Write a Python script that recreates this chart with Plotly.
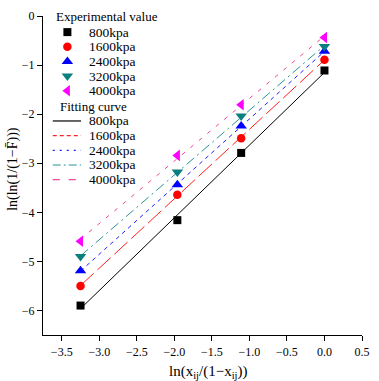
import numpy as np
import plotly.graph_objects as go

# ---------------- data ----------------
pressures = ["800kpa", "1600kpa", "2400kpa", "3200kpa", "4000kpa"]
x_vals = [-3.25, -1.96, -1.11, 0.0]
y_800 = [-5.90, -4.16, -2.79, -1.11]
y_1600 = [-5.50, -3.64, -2.49, -0.89]
y_2400 = [-5.19, -3.44, -2.24, -0.72]
y_3200 = [-4.90, -3.18, -2.04, -0.62]
y_4000 = [-4.59, -2.84, -1.81, -0.44]
series = [y_800, y_1600, y_2400, y_3200, y_4000]

x_ticks = [-3.5, -3.0, -2.5, -2.0, -1.5, -1.0, -0.5, 0.0, 0.5]
y_ticks = [-6, -5, -4, -3, -2, -1, 0]

# ---------------- styles ----------------
marker_colors = ["#000000", "#FF0000", "#0000FF", "#0A7F7F", "#FF00FF"]
line_colors = ["#000000", "#FF2020", "#2020FF", "#2A9494", "#F0459A"]
symbols = ["square", "circle", "triangle-up", "triangle-down", "triangle-left"]
msizes = [8, 8.5, 10, 10, 10]
plot_dash = ["solid", "18px,5px", "4px,4px", "10px,4px,2px,4px", "4px,7px"]
leg_dash = ["solid", "4px,3px", "2px,5px", "8px,3px,2px,3px", "7px,9px"]

font_fam = "Liberation Serif, Times New Roman, serif"

W, H = 379, 381
ML, MR, MT, MB = 43, 9, 12, 46
PW, PH = W - ML - MR, H - MT - MB

fig = go.Figure()

xs = np.array(x_vals)
xline = np.array([min(x_vals), max(x_vals)])
for i, ys in enumerate(series):
    k, b = np.polyfit(xs, np.array(ys), 1)
    fig.add_trace(go.Scatter(
        x=xline, y=k * xline + b, mode="lines",
        line=dict(color=line_colors[i], width=1.0, dash=plot_dash[i]),
        showlegend=False, hoverinfo="skip"))
for i, ys in enumerate(series):
    fig.add_trace(go.Scatter(
        x=x_vals, y=ys, mode="markers",
        marker=dict(symbol=symbols[i], size=msizes[i], color=marker_colors[i],
                    line=dict(width=0)),
        showlegend=False))

# ---------------- custom legend (pixel axes overlay) ----------------
row0 = 28.3 - MT
step = 14.85
mk_x = 68 - ML
txt_x = 88 - ML
annotations = []
annotations.append(dict(x=54 - ML, y=12.5 - MT, xref="x2", yref="y2", text="Experimental value",
                        showarrow=False, xanchor="left", yanchor="middle",
                        font=dict(family=font_fam, size=13, color="black")))
for i in range(5):
    yy = row0 + i * step
    fig.add_trace(go.Scatter(x=[mk_x], y=[yy], xaxis="x2", yaxis="y2", mode="markers",
                             marker=dict(symbol=symbols[i], size=msizes[i], color=marker_colors[i],
                                         line=dict(width=0)),
                             showlegend=False, hoverinfo="skip"))
    annotations.append(dict(x=txt_x, y=yy, xref="x2", yref="y2", text=pressures[i],
                            showarrow=False, xanchor="left", yanchor="middle",
                            font=dict(family=font_fam, size=13.5, color="black")))
annotations.append(dict(x=58 - ML, y=103.5 - MT, xref="x2", yref="y2", text="Fitting curve",
                        showarrow=False, xanchor="left", yanchor="middle",
                        font=dict(family=font_fam, size=13, color="black")))
row1 = 118.3 - MT
for i in range(5):
    yy = row1 + i * step
    fig.add_trace(go.Scatter(x=[53 - ML, 82 - ML], y=[yy, yy], xaxis="x2", yaxis="y2", mode="lines",
                             line=dict(color=line_colors[i], width=1.2, dash=leg_dash[i]),
                             showlegend=False, hoverinfo="skip"))
    annotations.append(dict(x=txt_x, y=yy, xref="x2", yref="y2", text=pressures[i],
                            showarrow=False, xanchor="left", yanchor="middle",
                            font=dict(family=font_fam, size=13.5, color="black")))

# axis titles
annotations.append(dict(x=(212 - ML) / PW, y=-(372 - (H - MB)) / PH, xref="paper", yref="paper",
                        text="ln(x<sub>ij</sub>/(1\u2212x<sub>ij</sub>))", showarrow=False,
                        xanchor="center", yanchor="middle",
                        font=dict(family=font_fam, size=15, color="black")))
annotations.append(dict(x=(12 - ML) / PW, y=((H - MB) - 167) / PH, xref="paper", yref="paper",
                        text="ln(ln(1/(1\u2212F\u0304)))", showarrow=False, textangle=-90,
                        xanchor="center", yanchor="middle",
                        font=dict(family=font_fam, size=14, color="black")))

axis_common = dict(showgrid=False, zeroline=False, showline=True, linecolor="black",
                   linewidth=1.2, ticks="outside", ticklen=5, tickwidth=1.2, tickcolor="black",
                   tickfont=dict(family=font_fam, size=12, color="black"), mirror=False)

fig.update_layout(
    width=W, height=H,
    margin=dict(l=ML, r=MR, t=MT, b=MB),
    paper_bgcolor="white", plot_bgcolor="white",
    showlegend=False,
    xaxis=dict(range=[-3.75, 0.5], tickvals=x_ticks, ticktext=[f"{v:.1f}".replace("-", "\u2212") for v in x_ticks],
               **axis_common),
    yaxis=dict(range=[-6.5, 0], tickvals=y_ticks, ticktext=[str(v).replace("-", "\u2212") for v in y_ticks],
               **axis_common),
    xaxis2=dict(overlaying="x", range=[0, PW], visible=False, fixedrange=True),
    yaxis2=dict(overlaying="y", range=[PH, 0], visible=False, fixedrange=True),
    annotations=annotations,
)

fig.write_html("out.html")
